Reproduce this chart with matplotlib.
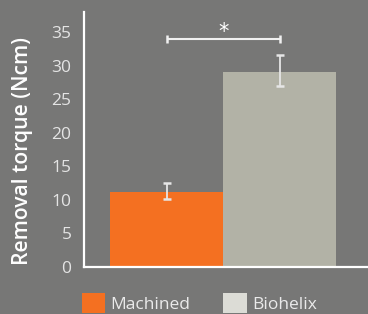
import matplotlib
matplotlib.use("Agg")
import matplotlib.pyplot as plt
from matplotlib.patches import Patch

categories = ["Machined", "Biohelix"]
values = [11.2, 29.0]
err_low = [1.1, 2.0]
err_high = [1.25, 2.6]
bar_colors = ["#F47021", "#B2B2A6"]
legend_colors = ["#F47021", "#DCDCD6"]
sig_level = 34.0
sig_label = "*"
yticks = [0, 5, 10, 15, 20, 25, 30, 35]

bg = "#777776"
plt.rcParams['font.family'] = ['Open Sans', 'DejaVu Sans']

fig = plt.figure(figsize=(3.68, 3.14), dpi=100, facecolor=bg)
ax = fig.add_axes([0.228, 0.150, 0.80, 0.812], facecolor=bg)

x = list(range(len(categories)))
ax.bar(x, values, width=1.0, color=bar_colors, zorder=2)
ax.errorbar(x, values, yerr=[err_low, err_high], fmt='none', ecolor='#E6E6E6',
            elinewidth=1.3, capsize=3.2, capthick=1.8, zorder=3)

# significance bracket
ax.errorbar([(x[0] + x[1]) / 2], [sig_level], xerr=[[(x[1] - x[0]) / 2]],
            fmt='none', ecolor='#F0F0F0', elinewidth=1.5, capsize=3.0,
            capthick=1.8, zorder=3)
ax.annotate(sig_label, xy=((x[0] + x[1]) / 2, sig_level), xytext=(0, 5),
            textcoords='offset points', ha='center', va='center',
            color='white', fontsize=15, family='DejaVu Sans')

ax.set_xlim(-0.73, 1.87)
ax.set_ylim(0, 38)
ax.set_yticks(yticks)
ax.set_yticklabels([str(t) for t in yticks], color='#E4E4E4', fontsize=12.5)
ax.tick_params(axis='y', length=0, pad=9)
ax.set_xticks([])
for s in ['top', 'right']:
    ax.spines[s].set_visible(False)
for s in ['left', 'bottom']:
    ax.spines[s].set_color('white')
    ax.spines[s].set_linewidth(1.6)
ax.set_ylabel("Removal torque (Ncm)", color='white', fontsize=15.2, fontweight='semibold')
ax.yaxis.set_label_coords(-0.174, 0.455)

handles = [Patch(facecolor=c, edgecolor='none') for c in legend_colors]
leg = fig.legend(handles, categories, loc='upper left', bbox_to_anchor=(0.222, 0.066),
                 ncol=2, frameon=False, fontsize=12.5, handlelength=1.35, handleheight=1.35,
                 columnspacing=1.9, handletextpad=0.3, borderpad=0, borderaxespad=0)
for t in leg.get_texts():
    t.set_color('#EAEAEA')

fig.savefig("out.png", dpi=100, facecolor=bg)
